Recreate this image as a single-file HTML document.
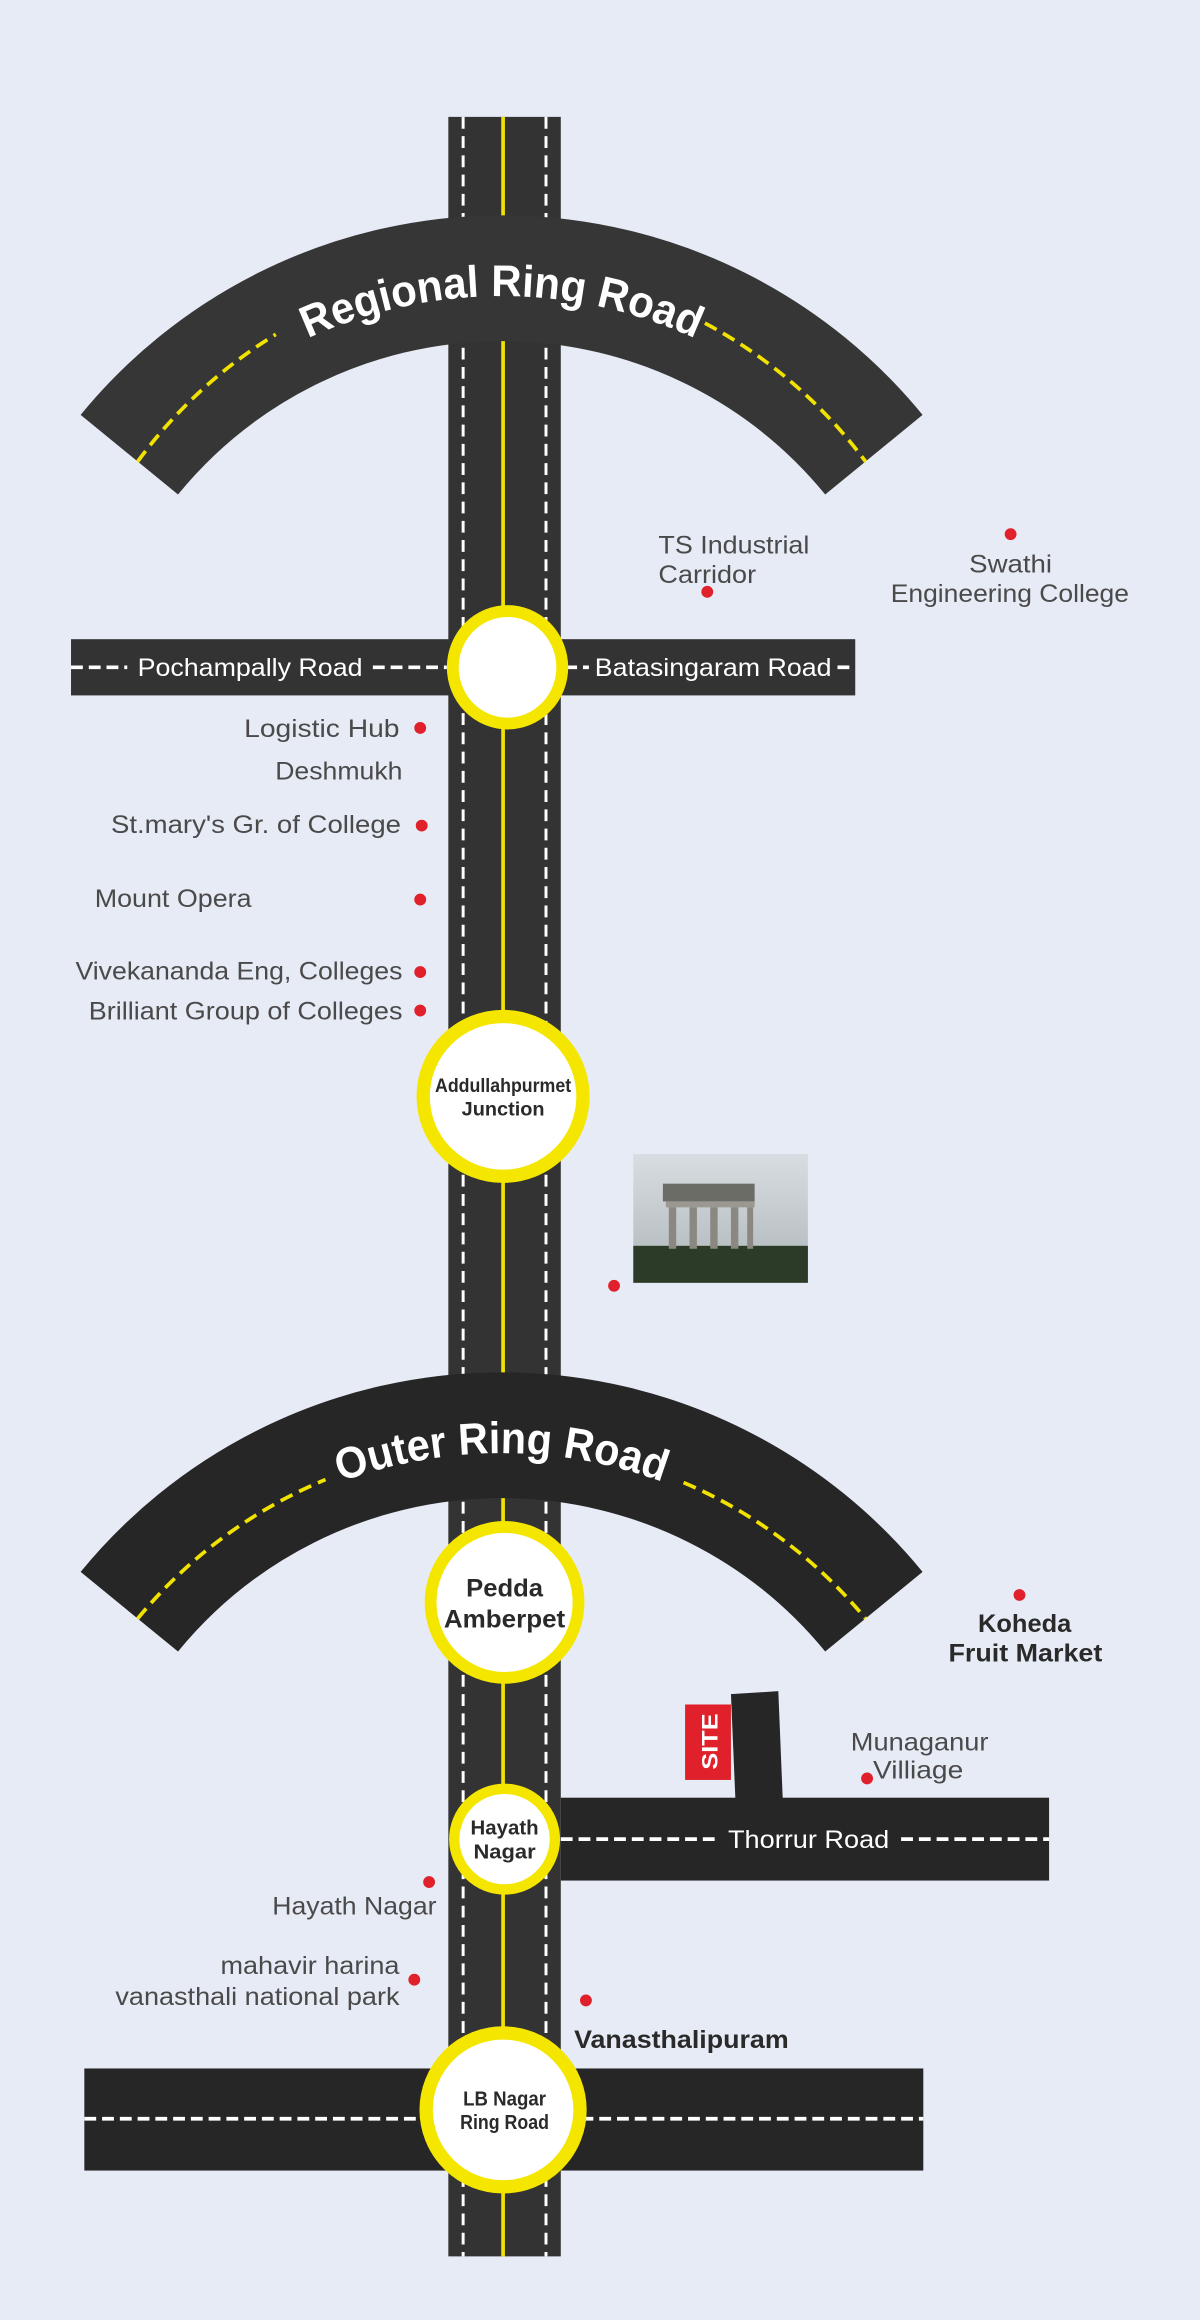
<!DOCTYPE html>
<html><head><meta charset="utf-8"><style>
html,body{margin:0;padding:0;background:#e7ebf6;}
svg{display:block}
text{font-family:"Liberation Sans Narrow","Liberation Sans",sans-serif;}
.lbl{fill:#4a4a4a;font-size:17px;}
.bl{fill:#2a2a2a;font-size:17px;font-weight:bold;}
.rd{fill:#fff;font-size:17px;}
.ct{fill:#2a2a2a;font-weight:bold;text-anchor:middle;}
</style></head><body>
<svg width="1200" height="2320" viewBox="0 0 811 1568" preserveAspectRatio="none" xmlns="http://www.w3.org/2000/svg">
<rect width="811" height="1568" fill="#e7ebf6"/>

<!-- vertical road -->
<rect x="303" y="79" width="76" height="1446" fill="#333"/>
<line x1="313" y1="79" x2="313" y2="1525" stroke="#fff" stroke-width="2" stroke-dasharray="8 5"/>
<line x1="369" y1="79" x2="369" y2="1525" stroke="#fff" stroke-width="2" stroke-dasharray="8 5"/>
<line x1="340" y1="79" x2="340" y2="1525" stroke="#f2e200" stroke-width="2.5"/>

<!-- Regional ring road -->
<path d="M87.4 307.3 A325 325 0 0 1 590.6 307.3" fill="none" stroke="#363636" stroke-width="85"/>
<path d="M93 312 A325 325 0 0 1 186.4 226" fill="none" stroke="#f2e200" stroke-width="2.5" stroke-dasharray="9 5"/>
<path d="M476.4 218.4 A325 325 0 0 1 585 312" fill="none" stroke="#f2e200" stroke-width="2.5" stroke-dasharray="9 5"/>
<path id="t1" d="M68 356.5 A313 313 0 0 1 610 356.5" fill="none"/>
<text style="font-size:30px;font-weight:bold;fill:#fff"><textPath href="#t1" startOffset="50%" text-anchor="middle" textLength="270" lengthAdjust="spacingAndGlyphs">Regional Ring Road</textPath></text>

<!-- Pochampally road -->
<rect x="48" y="432" width="530" height="38" fill="#333"/>
<line x1="48" y1="451" x2="86" y2="451" stroke="#fff" stroke-width="2.5" stroke-dasharray="8 4"/>
<line x1="252" y1="451" x2="302" y2="451" stroke="#fff" stroke-width="2.5" stroke-dasharray="8 4"/>
<line x1="382" y1="451" x2="398" y2="451" stroke="#fff" stroke-width="2.5" stroke-dasharray="8 4"/>
<line x1="566" y1="451" x2="578" y2="451" stroke="#fff" stroke-width="2.5" stroke-dasharray="8 4"/>
<text class="rd" x="93" y="457" textLength="152" lengthAdjust="spacingAndGlyphs">Pochampally Road</text>
<text class="rd" x="402" y="457" textLength="160" lengthAdjust="spacingAndGlyphs">Batasingaram Road</text>
<ellipse cx="343" cy="451" rx="37" ry="38" fill="#fff" stroke="#f5e600" stroke-width="8"/>

<!-- left labels -->
<g class="lbl" text-anchor="end">
<text x="270" y="498" textLength="105" lengthAdjust="spacingAndGlyphs">Logistic Hub</text>
<text x="272" y="527" textLength="86" lengthAdjust="spacingAndGlyphs">Deshmukh</text>
<text x="271" y="563" textLength="196" lengthAdjust="spacingAndGlyphs">St.mary's Gr. of College</text>
<text x="272" y="662" textLength="221" lengthAdjust="spacingAndGlyphs">Vivekananda Eng, Colleges</text>
<text x="272" y="689" textLength="212" lengthAdjust="spacingAndGlyphs">Brilliant Group of Colleges</text>
<text x="295" y="1294" textLength="111" lengthAdjust="spacingAndGlyphs">Hayath Nagar</text>
<text x="270" y="1334" textLength="121" lengthAdjust="spacingAndGlyphs">mahavir harina</text>
<text x="270" y="1355" textLength="192" lengthAdjust="spacingAndGlyphs">vanasthali national park</text>
</g>
<text class="lbl" x="64" y="613" textLength="106" lengthAdjust="spacingAndGlyphs">Mount Opera</text>
<g fill="#e0202a">
<circle cx="284" cy="492" r="4"/><circle cx="285" cy="558" r="4"/><circle cx="284" cy="608" r="4"/>
<circle cx="284" cy="657" r="4"/><circle cx="284" cy="683" r="4"/>
<circle cx="478" cy="400" r="4"/><circle cx="683" cy="361" r="4"/><circle cx="415" cy="869" r="4"/>
<circle cx="689" cy="1078" r="4"/><circle cx="586" cy="1202" r="4"/><circle cx="290" cy="1272" r="4"/>
<circle cx="280" cy="1338" r="4"/><circle cx="396" cy="1352" r="4"/>
</g>
<text class="lbl" x="445" y="374" textLength="102" lengthAdjust="spacingAndGlyphs">TS Industrial</text>
<text class="lbl" x="445" y="394" textLength="66" lengthAdjust="spacingAndGlyphs">Carridor</text>
<text class="lbl" x="655" y="387" textLength="56" lengthAdjust="spacingAndGlyphs">Swathi</text>
<text class="lbl" x="602" y="407" textLength="161" lengthAdjust="spacingAndGlyphs">Engineering College</text>

<!-- Addullahpurmet -->
<circle cx="340" cy="741" r="54" fill="#fff" stroke="#f5e600" stroke-width="9"/>
<text class="ct" x="340" y="738" style="font-size:13px" textLength="92" lengthAdjust="spacingAndGlyphs">Addullahpurmet</text>
<text class="ct" x="340" y="754" style="font-size:13px" textLength="56" lengthAdjust="spacingAndGlyphs">Junction</text>

<!-- photo -->
<defs><linearGradient id="sky" x1="0" y1="0" x2="0" y2="1"><stop offset="0" stop-color="#d8dde2"/><stop offset="1" stop-color="#aeb6b8"/></linearGradient></defs>
<rect x="428" y="780" width="118" height="87" fill="url(#sky)"/>
<rect x="428" y="842" width="118" height="25" fill="#2c3a28"/>
<rect x="448" y="800" width="62" height="12" fill="#6c6c66"/>
<rect x="450" y="812" width="60" height="4" fill="#9a9890"/>
<g fill="#8a8880"><rect x="452" y="816" width="5" height="28"/><rect x="466" y="816" width="5" height="28"/><rect x="480" y="816" width="5" height="28"/><rect x="494" y="816" width="5" height="28"/><rect x="505" y="816" width="4" height="28"/></g>

<!-- Outer ring road -->
<path d="M87.4 1089.3 A325 325 0 0 1 590.6 1089.3" fill="none" stroke="#262626" stroke-width="85"/>
<path d="M93 1094 A325 325 0 0 1 220 1000" fill="none" stroke="#f2e200" stroke-width="2.5" stroke-dasharray="9 5"/>
<path d="M462 1002 A325 325 0 0 1 585 1094" fill="none" stroke="#f2e200" stroke-width="2.5" stroke-dasharray="9 5"/>
<path id="t2" d="M68 1138.5 A313 313 0 0 1 610 1138.5" fill="none"/>
<text style="font-size:30px;font-weight:bold;fill:#fff"><textPath href="#t2" startOffset="50%" text-anchor="middle" textLength="222" lengthAdjust="spacingAndGlyphs">Outer Ring Road</textPath></text>

<!-- Pedda Amberpet -->
<ellipse cx="341" cy="1083" rx="50" ry="51" fill="#fff" stroke="#f5e600" stroke-width="8"/>
<text class="ct" x="341" y="1079" style="font-size:17px" textLength="52" lengthAdjust="spacingAndGlyphs">Pedda</text>
<text class="ct" x="341" y="1100" style="font-size:17px" textLength="82" lengthAdjust="spacingAndGlyphs">Amberpet</text>

<!-- Koheda, Munaganur -->
<text class="bl" x="661" y="1103" textLength="63" lengthAdjust="spacingAndGlyphs">Koheda</text>
<text class="bl" x="641" y="1123" textLength="104" lengthAdjust="spacingAndGlyphs">Fruit Market</text>
<text class="lbl" x="575" y="1183" textLength="93" lengthAdjust="spacingAndGlyphs">Munaganur</text>
<text class="lbl" x="590" y="1202" textLength="61" lengthAdjust="spacingAndGlyphs">Villiage</text>

<!-- site -->
<polygon points="494,1145 526,1143 529,1216 497,1216" fill="#262626"/>
<rect x="463" y="1152" width="31" height="51" fill="#e0202a"/>
<text x="0" y="0" transform="translate(485,1177) rotate(-90)" style="font-size:15px;font-weight:bold;fill:#fff" text-anchor="middle" textLength="38" lengthAdjust="spacingAndGlyphs">SITE</text>

<!-- Thorrur road -->
<rect x="379" y="1215" width="330" height="56" fill="#262626"/>
<line x1="379" y1="1243" x2="486" y2="1243" stroke="#fff" stroke-width="2.5" stroke-dasharray="8 4"/>
<line x1="609" y1="1243" x2="709" y2="1243" stroke="#fff" stroke-width="2.5" stroke-dasharray="8 4"/>
<text class="rd" x="492" y="1249" textLength="109" lengthAdjust="spacingAndGlyphs">Thorrur Road</text>
<circle cx="341" cy="1243" r="34" fill="#fff" stroke="#f5e600" stroke-width="7"/>
<text class="ct" x="341" y="1240" style="font-size:14px" textLength="46" lengthAdjust="spacingAndGlyphs">Hayath</text>
<text class="ct" x="341" y="1256" style="font-size:14px" textLength="42" lengthAdjust="spacingAndGlyphs">Nagar</text>

<text class="bl" x="388" y="1384" textLength="145" lengthAdjust="spacingAndGlyphs">Vanasthalipuram</text>

<!-- LB Nagar road -->
<rect x="57" y="1398" width="567" height="69" fill="#262626"/>
<line x1="57" y1="1432" x2="624" y2="1432" stroke="#fff" stroke-width="2.5" stroke-dasharray="8 4"/>
<circle cx="340" cy="1426" r="52" fill="#fff" stroke="#f5e600" stroke-width="9"/>
<text class="ct" x="341" y="1423" style="font-size:14px" textLength="56" lengthAdjust="spacingAndGlyphs">LB Nagar</text>
<text class="ct" x="341" y="1439" style="font-size:14px" textLength="60" lengthAdjust="spacingAndGlyphs">Ring Road</text>
</svg>
</body></html>
